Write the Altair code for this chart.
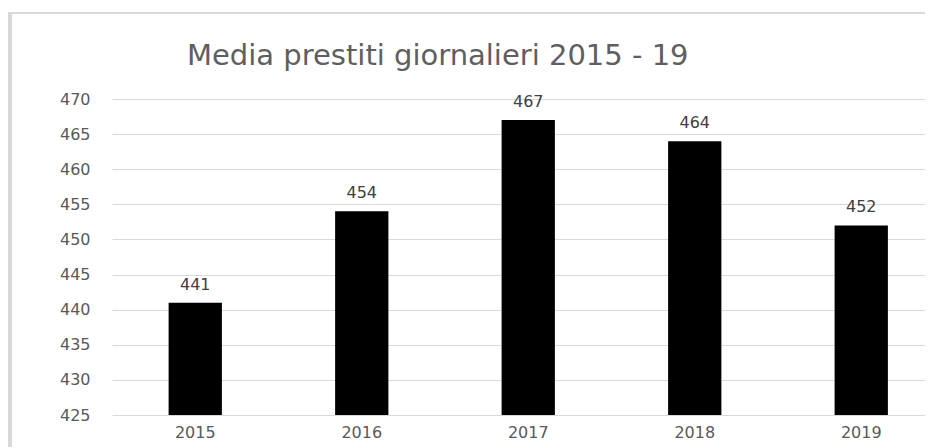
import altair as alt
import pandas as pd

years = ["2015", "2016", "2017", "2018", "2019"]
values = [441, 454, 467, 464, 452]
y_ticks = [425, 430, 435, 440, 445, 450, 455, 460, 465, 470]
title_text = "Media prestiti giornalieri 2015 - 19"

df = pd.DataFrame({"anno": years, "media": values})

GRAY = "#595959"
LINE = "#d9d9d9"
FONT = "DejaVu Sans"
FS = 16

W, H = 813, 316

x_enc = alt.X(
    "anno:N",
    sort=years,
    scale=alt.Scale(range=[0, 832.5], paddingInner=0.68, paddingOuter=0.34),
    axis=alt.Axis(
        title=None, domain=False, ticks=False, labelAngle=0, labelPadding=9,
        labelColor=GRAY, labelFont=FONT, labelFontSize=FS, grid=False,
    ),
)
y_enc = alt.Y(
    "media:Q",
    scale=alt.Scale(domain=[425, 470], nice=False, zero=False),
    axis=alt.Axis(
        title=None, values=y_ticks, domain=False, ticks=False, labelPadding=22,
        labelColor=GRAY, labelFont=FONT, labelFontSize=FS,
        grid=True, gridColor=LINE, gridWidth=1,
    ),
)

base = alt.Chart(df)
bars = base.mark_bar(color="#000000", clip=True).encode(x=x_enc, y=y_enc)
labels = base.mark_text(
    baseline="alphabetic", dy=-13, color="#404040", font=FONT, fontSize=FS
).encode(x=x_enc, y=y_enc, text="media:Q")

frame_df = pd.DataFrame({"k": [0]})
left_border = alt.Chart(frame_df).mark_rule(color=LINE, strokeWidth=4).encode(
    x=alt.value(-102), y=alt.value(-86), y2=alt.value(H + 60)
)
top_border = alt.Chart(frame_df).mark_rule(color=LINE, strokeWidth=2).encode(
    x=alt.value(-104), x2=alt.value(W + 10), y=alt.value(-86)
)
title_df = pd.DataFrame({"t": [title_text]})
title = alt.Chart(title_df).mark_text(
    align="left", baseline="alphabetic", font=FONT, fontSize=29, color="#5f5f5f"
).encode(x=alt.value(75), y=alt.value(-34), text="t:N")

chart = alt.layer(left_border, top_border, title, bars, labels).properties(
    width=W,
    height=H,
    autosize=alt.AutoSizeParams(type="none"),
    padding={"left": 104, "top": 91, "right": 0, "bottom": 32},
).configure_view(stroke=None)

chart.save("out.html", embed_options={"renderer": "svg", "actions": False})
